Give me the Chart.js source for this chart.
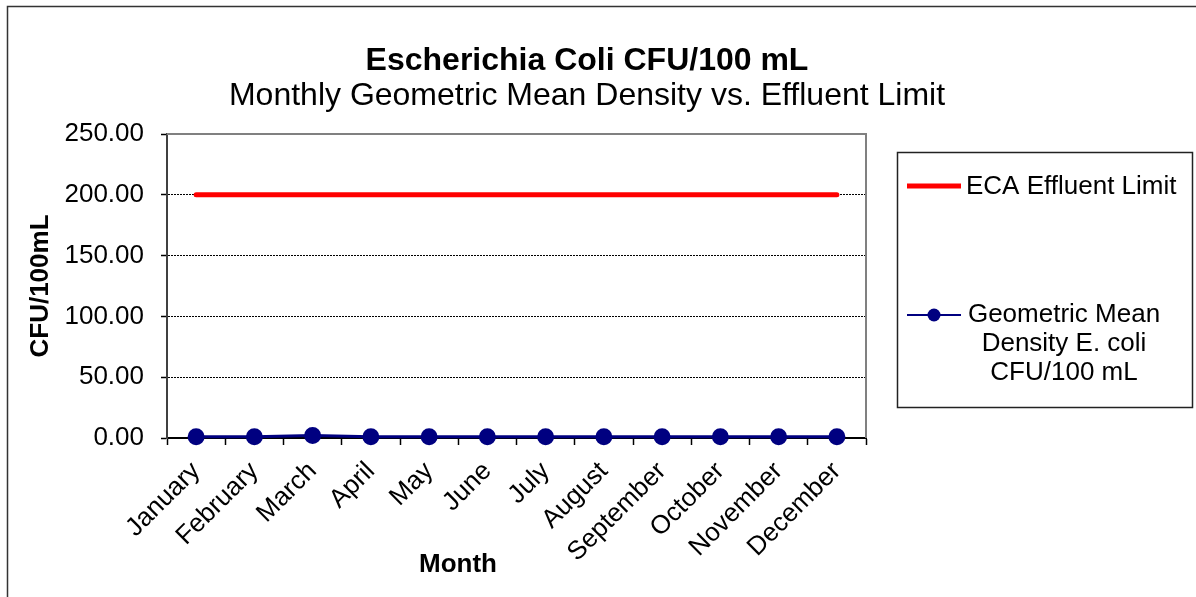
<!DOCTYPE html>
<html>
<head>
<meta charset="utf-8">
<script src="https://cdn.jsdelivr.net/npm/chart.js@4/dist/chart.umd.min.js"></script>
<style>
  body { margin: 0; background: #fff; }
  canvas { display: block; }
</style>
</head>
<body>
<canvas id="ecoli-chart" width="1196" height="597"></canvas>
<script>
// E. coli chart data

const months = ['January', 'February', 'March', 'April', 'May', 'June', 'July',
  'August', 'September', 'October', 'November', 'December'];
const effluentLimit = [200, 200, 200, 200, 200, 200, 200, 200, 200, 200, 200, 200];
const geoMeanDensity = [1, 1, 2, 1, 1, 1, 1, 1, 1, 1, 1, 1];
const yTicks = [0, 50, 100, 150, 200, 250];

const titleText = 'Escherichia Coli CFU/100 mL';
const subtitleText = 'Monthly Geometric Mean Density vs. Effluent Limit';
const xTitle = 'Month';
const yTitle = 'CFU/100mL';
const legendLabels = [['ECA Effluent Limit'], ['Geometric Mean', 'Density E. coli', 'CFU/100 mL']];

const FONT = '"Liberation Sans", Arial, sans-serif';

// Titles, frame and legend
const decorPlugin = {
  id: 'decor',
  beforeDraw: function(chart) {
    const ctx = chart.ctx;
    ctx.save();
    ctx.fillStyle = '#fff';
    ctx.fillRect(0, 0, chart.width, chart.height);
    ctx.strokeStyle = '#333';
    ctx.lineWidth = 1.5;
    ctx.strokeRect(7.5, 6.5, chart.width, chart.height);
    ctx.restore();
  },
  afterDraw: function(chart) {
    const ctx = chart.ctx;
    const area = chart.chartArea;
    ctx.save();

    // plot border top and right
    ctx.strokeStyle = '#808080';
    ctx.lineWidth = 2;
    ctx.beginPath();
    ctx.moveTo(area.left, area.top);
    ctx.lineTo(area.right, area.top);
    ctx.lineTo(area.right, area.bottom);
    ctx.stroke();

    // titles
    ctx.fillStyle = '#000';
    ctx.textAlign = 'center';
    ctx.textBaseline = 'alphabetic';
    ctx.font = 'bold 32px ' + FONT;
    ctx.fillText(titleText, 587, 70);
    ctx.font = '32px ' + FONT;
    ctx.fillText(subtitleText, 587, 105);

    // axis titles
    ctx.font = 'bold 26px ' + FONT;
    ctx.textBaseline = 'middle';
    ctx.fillText(xTitle, 458, 565);
    ctx.save();
    ctx.translate(41, (area.top + area.bottom) / 2);
    ctx.rotate(-Math.PI / 2);
    ctx.fillText(yTitle, 0, 0);
    ctx.restore();

    // legend
    ctx.strokeStyle = '#222';
    ctx.lineWidth = 1.5;
    ctx.strokeRect(897.5, 152.5, 295, 255);
    const ds = chart.data.datasets;
    const rows = [186, 315];
    ds.forEach(function(d, i) {
      const y = rows[i];
      ctx.strokeStyle = d.borderColor;
      ctx.lineWidth = i === 0 ? 5 : 2;
      ctx.beginPath();
      ctx.moveTo(907, y);
      ctx.lineTo(961, y);
      ctx.stroke();
      if (d.pointRadius) {
        ctx.fillStyle = d.pointBackgroundColor;
        ctx.beginPath();
        ctx.arc(934, y, 6.5, 0, Math.PI * 2);
        ctx.fill();
      }
      ctx.fillStyle = '#000';
      ctx.font = '26px ' + FONT;
      const lines = legendLabels[i];
      if (lines.length === 1) {
        ctx.textAlign = 'left';
        ctx.fillText(lines[0], 966, y + 1);
      } else {
        ctx.textAlign = 'center';
        lines.forEach(function(t, j) {
          ctx.fillText(t, 1064, y + j * 29);
        });
      }
    });
    ctx.restore();
  }
};

const ecoliCanvas = document.getElementById('ecoli-chart');
const ecoliChart = new Chart(ecoliCanvas, {
  type: 'line',
  data: {
    labels: months,
    datasets: [{
      label: 'ECA Effluent Limit',
      data: effluentLimit,
      borderColor: '#ff0000',
      borderWidth: 5,
      pointRadius: 0,
      borderCapStyle: 'round',
      clip: false
    }, {
      label: 'Geometric Mean Density E. coli CFU/100 mL',
      data: geoMeanDensity,
      borderColor: '#000080',
      backgroundColor: '#000080',
      pointBackgroundColor: '#000080',
      pointBorderColor: '#000080',
      borderWidth: 3,
      pointRadius: 7,
      clip: false
    }]
  },
  options: {
    responsive: false,
    animation: false,
    layout: { padding: { left: 0, top: 134, right: 330, bottom: 0 } },
    plugins: {
      legend: { display: false },
      title: { display: false },
      tooltip: { enabled: false }
    },
    scales: {
      x: {
        offset: true,
        grid: {
          offset: true,
          drawOnChartArea: false,
          tickLength: 7,
          tickColor: '#000',
          tickWidth: 1.5
        },
        border: { color: '#000', width: 2 },
        ticks: {
          color: '#000',
          font: { family: FONT, size: 26 },
          minRotation: 45,
          maxRotation: 45,
          padding: 11,
          autoSkip: false
        },
        afterFit: function(scale) { scale.height = 159; }
      },
      y: {
        min: 0,
        max: 250,
        afterBuildTicks: function(scale) {
          scale.ticks = yTicks.map(function(v) { return { value: v }; });
        },
        grid: {
          color: '#000',
          lineWidth: 1,
          tickLength: 6,
          tickColor: '#000',
          tickWidth: 1.5
        },
        border: { color: '#404040', width: 2, dash: [2, 1] },
        ticks: {
          color: '#000',
          font: { family: FONT, size: 26 },
          padding: 17,
          callback: function(value) { return Number(value).toFixed(2); }
        },
        afterFit: function(scale) { scale.width = 167; }
      }
    }
  },
  plugins: [decorPlugin]
});
</script>
</body>
</html>
